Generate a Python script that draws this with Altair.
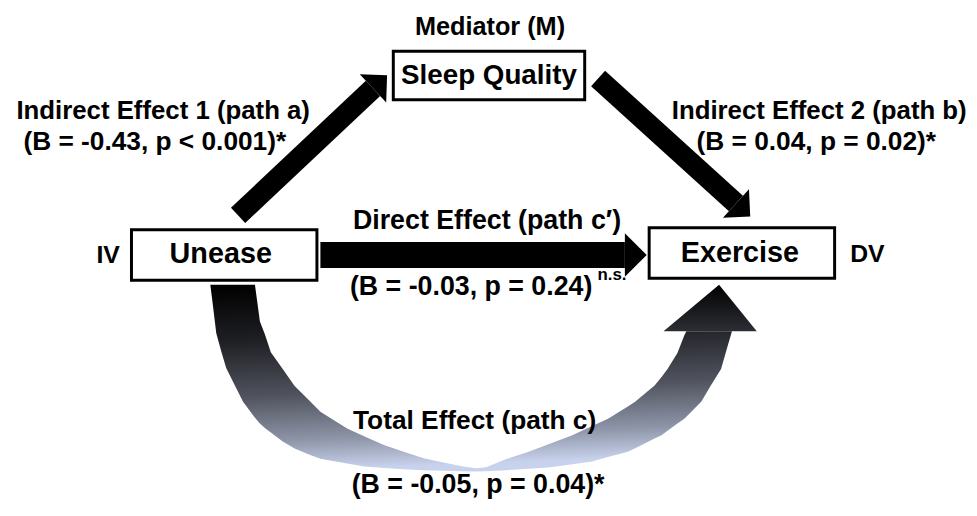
import altair as alt
import pandas as pd

# ---------------- text content ----------------
labels = ["Mediator (M)", "Sleep Quality", "Indirect Effect 1 (path a)", "(B = -0.43, p < 0.001)*",
          "Indirect Effect 2 (path b)", "(B = 0.04, p = 0.02)*", "Direct Effect (path c\u2032)",
          "(B = -0.03, p = 0.24)", "n.s.", "IV", "Unease", "Exercise", "DV",
          "Total Effect (path c)", "(B = -0.05, p = 0.04)*"]
label_x = [494, 493, 164.5, 156, 826, 823, 491, 475, 617, 109, 222.5, 746, 874.5, 478.5, 482]
label_y = [33, 83, 118, 149, 118, 149, 229, 295, 280, 263, 263, 262, 262, 430, 495]
label_size = [25.5, 28, 26, 26.5, 26, 26.5, 27, 27, 17, 25, 29, 29, 25, 26.5, 27]

# ---------------- node boxes ----------------
box_names = ["Sleep Quality", "Unease", "Exercise"]
box_x0 = [396.5, 132.5, 654.5]
box_x1 = [589.5, 319.5, 841.5]
box_y0 = [49.5, 229.5, 227.5]
box_y1 = [98.5, 280.5, 278.5]

# ---------------- straight arrows (a, b, c') ----------------
arrow_names = ["path a", "path b", "path c'"]
shaft_x0 = [240, 603, 323]
shaft_y0 = [215, 77, 255]
head_x = [376, 742, 630]
head_y = [87, 203, 255]
shaft_w = [21, 21, 26]
head_angle = [316.8, 42.3, 0]
head_base = [39, 39, 44]

# ---------------- curved total-effect arrow (path c) ----------------
curve_x = [212, 214, 218, 223, 228, 236, 245, 257, 262, 267, 273, 285, 297, 310, 323, 337, 350,
           367, 387, 407, 427, 447, 467, 480, 490, 510, 533, 555, 577, 597, 613, 633, 640, 650,
           660, 667, 673, 683, 690, 692, 700, 707, 717, 727, 733, 738]
curve_top = [285, 285, 285, 285, 285, 285, 285, 285, 322, 335, 353, 370, 387, 400, 413, 422, 430,
             437.7, 446.7, 453.4, 460, 464.2, 468.3, 470, 469, 461, 453.3, 445, 436.7, 427.4, 420,
             407.7, 403.3, 395, 386.7, 378, 370, 353.8, 336, 332, 332, 332, 332, 332, 332, 332]
curve_bottom = [285, 301, 334, 352, 369, 385, 403, 419, 425, 429.5, 434, 443, 450, 455.6, 460.5,
                463, 465.3, 468.3, 469.7, 471, 472, 472.6, 473, 473.2, 473, 472, 470.6, 468.9, 466,
                463.3, 458.8, 453.3, 450, 445, 440, 436.7, 432.2, 425, 420, 418, 410, 403, 386,
                370, 349, 332]
chead_x = [669, 725, 763]
chead_top = [332, 285, 332]
chead_bottom = [332, 332, 332]

# ---------------- build tables ----------------
texts = pd.DataFrame({"label": labels, "x": label_x, "y": label_y, "fs": label_size})
boxes = pd.DataFrame({"node": box_names, "x0": box_x0, "x1": box_x1, "y0": box_y0, "y1": box_y1})
arrows = pd.DataFrame({"path": arrow_names, "x0": shaft_x0, "y0": shaft_y0, "hx": head_x,
                       "hy": head_y, "w": shaft_w, "ang": head_angle,
                       "hs": [b * b for b in head_base]})
curve = pd.DataFrame({"x": curve_x, "top": curve_top, "bot": curve_bottom})
chead = pd.DataFrame({"x": chead_x, "top": chead_top, "bot": chead_bottom})

XS = alt.Scale(domain=[8, 977], nice=False, zero=False)
YS = alt.Scale(domain=[8, 502], nice=False, zero=False, reverse=True)
FONT = "Liberation Sans"

shaft_grad = alt.Gradient(
    gradient="linear",
    stops=[alt.GradientStop(color="#000000", offset=0),
           alt.GradientStop(color="#1e1f23", offset=0.3),
           alt.GradientStop(color="#50535e", offset=0.6),
           alt.GradientStop(color="#8e95a8", offset=0.84),
           alt.GradientStop(color="#c8d2ec", offset=1)],
    x1=0, y1=0, x2=0.1, y2=1)
head_grad = alt.Gradient(
    gradient="linear",
    stops=[alt.GradientStop(color="#020202", offset=0),
           alt.GradientStop(color="#2c2e34", offset=1)],
    x1=0, y1=0, x2=0, y2=1)

curve_layer = alt.Chart(curve).mark_area(color=shaft_grad, orient="vertical").encode(
    x=alt.X("x:Q", scale=XS, axis=None),
    y=alt.Y("bot:Q", scale=YS, axis=None),
    y2="top:Q")

chead_layer = alt.Chart(chead).mark_area(color=head_grad, orient="vertical").encode(
    x=alt.X("x:Q", scale=XS, axis=None),
    y=alt.Y("bot:Q", scale=YS, axis=None),
    y2="top:Q")

shafts = alt.Chart(arrows).mark_rule(color="black", strokeCap="butt").encode(
    x=alt.X("x0:Q", scale=XS, axis=None),
    y=alt.Y("y0:Q", scale=YS, axis=None),
    x2="hx:Q", y2="hy:Q",
    strokeWidth=alt.StrokeWidth("w:Q", scale=None))

heads = alt.Chart(arrows).mark_point(
    shape="M0,-1L1,0L0,1Z", filled=True, color="black", opacity=1, strokeWidth=0).encode(
    x=alt.X("hx:Q", scale=XS, axis=None),
    y=alt.Y("hy:Q", scale=YS, axis=None),
    angle=alt.Angle("ang:Q", scale=None),
    size=alt.Size("hs:Q", scale=None))

box_layer = alt.Chart(boxes).mark_rect(fill="white", stroke="black", strokeWidth=3).encode(
    x=alt.X("x0:Q", scale=XS, axis=None),
    x2="x1:Q",
    y=alt.Y("y0:Q", scale=YS, axis=None),
    y2="y1:Q")

text_layer = alt.Chart(texts).mark_text(
    font=FONT, fontWeight="bold", color="black", align="center", baseline="alphabetic").encode(
    x=alt.X("x:Q", scale=XS, axis=None),
    y=alt.Y("y:Q", scale=YS, axis=None),
    text="label:N",
    size=alt.Size("fs:Q", scale=None))

chart = alt.layer(curve_layer, chead_layer, shafts, heads, box_layer, text_layer).properties(
    width=969, height=494,
    autosize=alt.AutoSizeParams(type="none"),
    padding=0,
    background="white",
).configure_view(strokeWidth=0)

chart.save("out.html", embed_options={"renderer": "svg", "actions": False})
